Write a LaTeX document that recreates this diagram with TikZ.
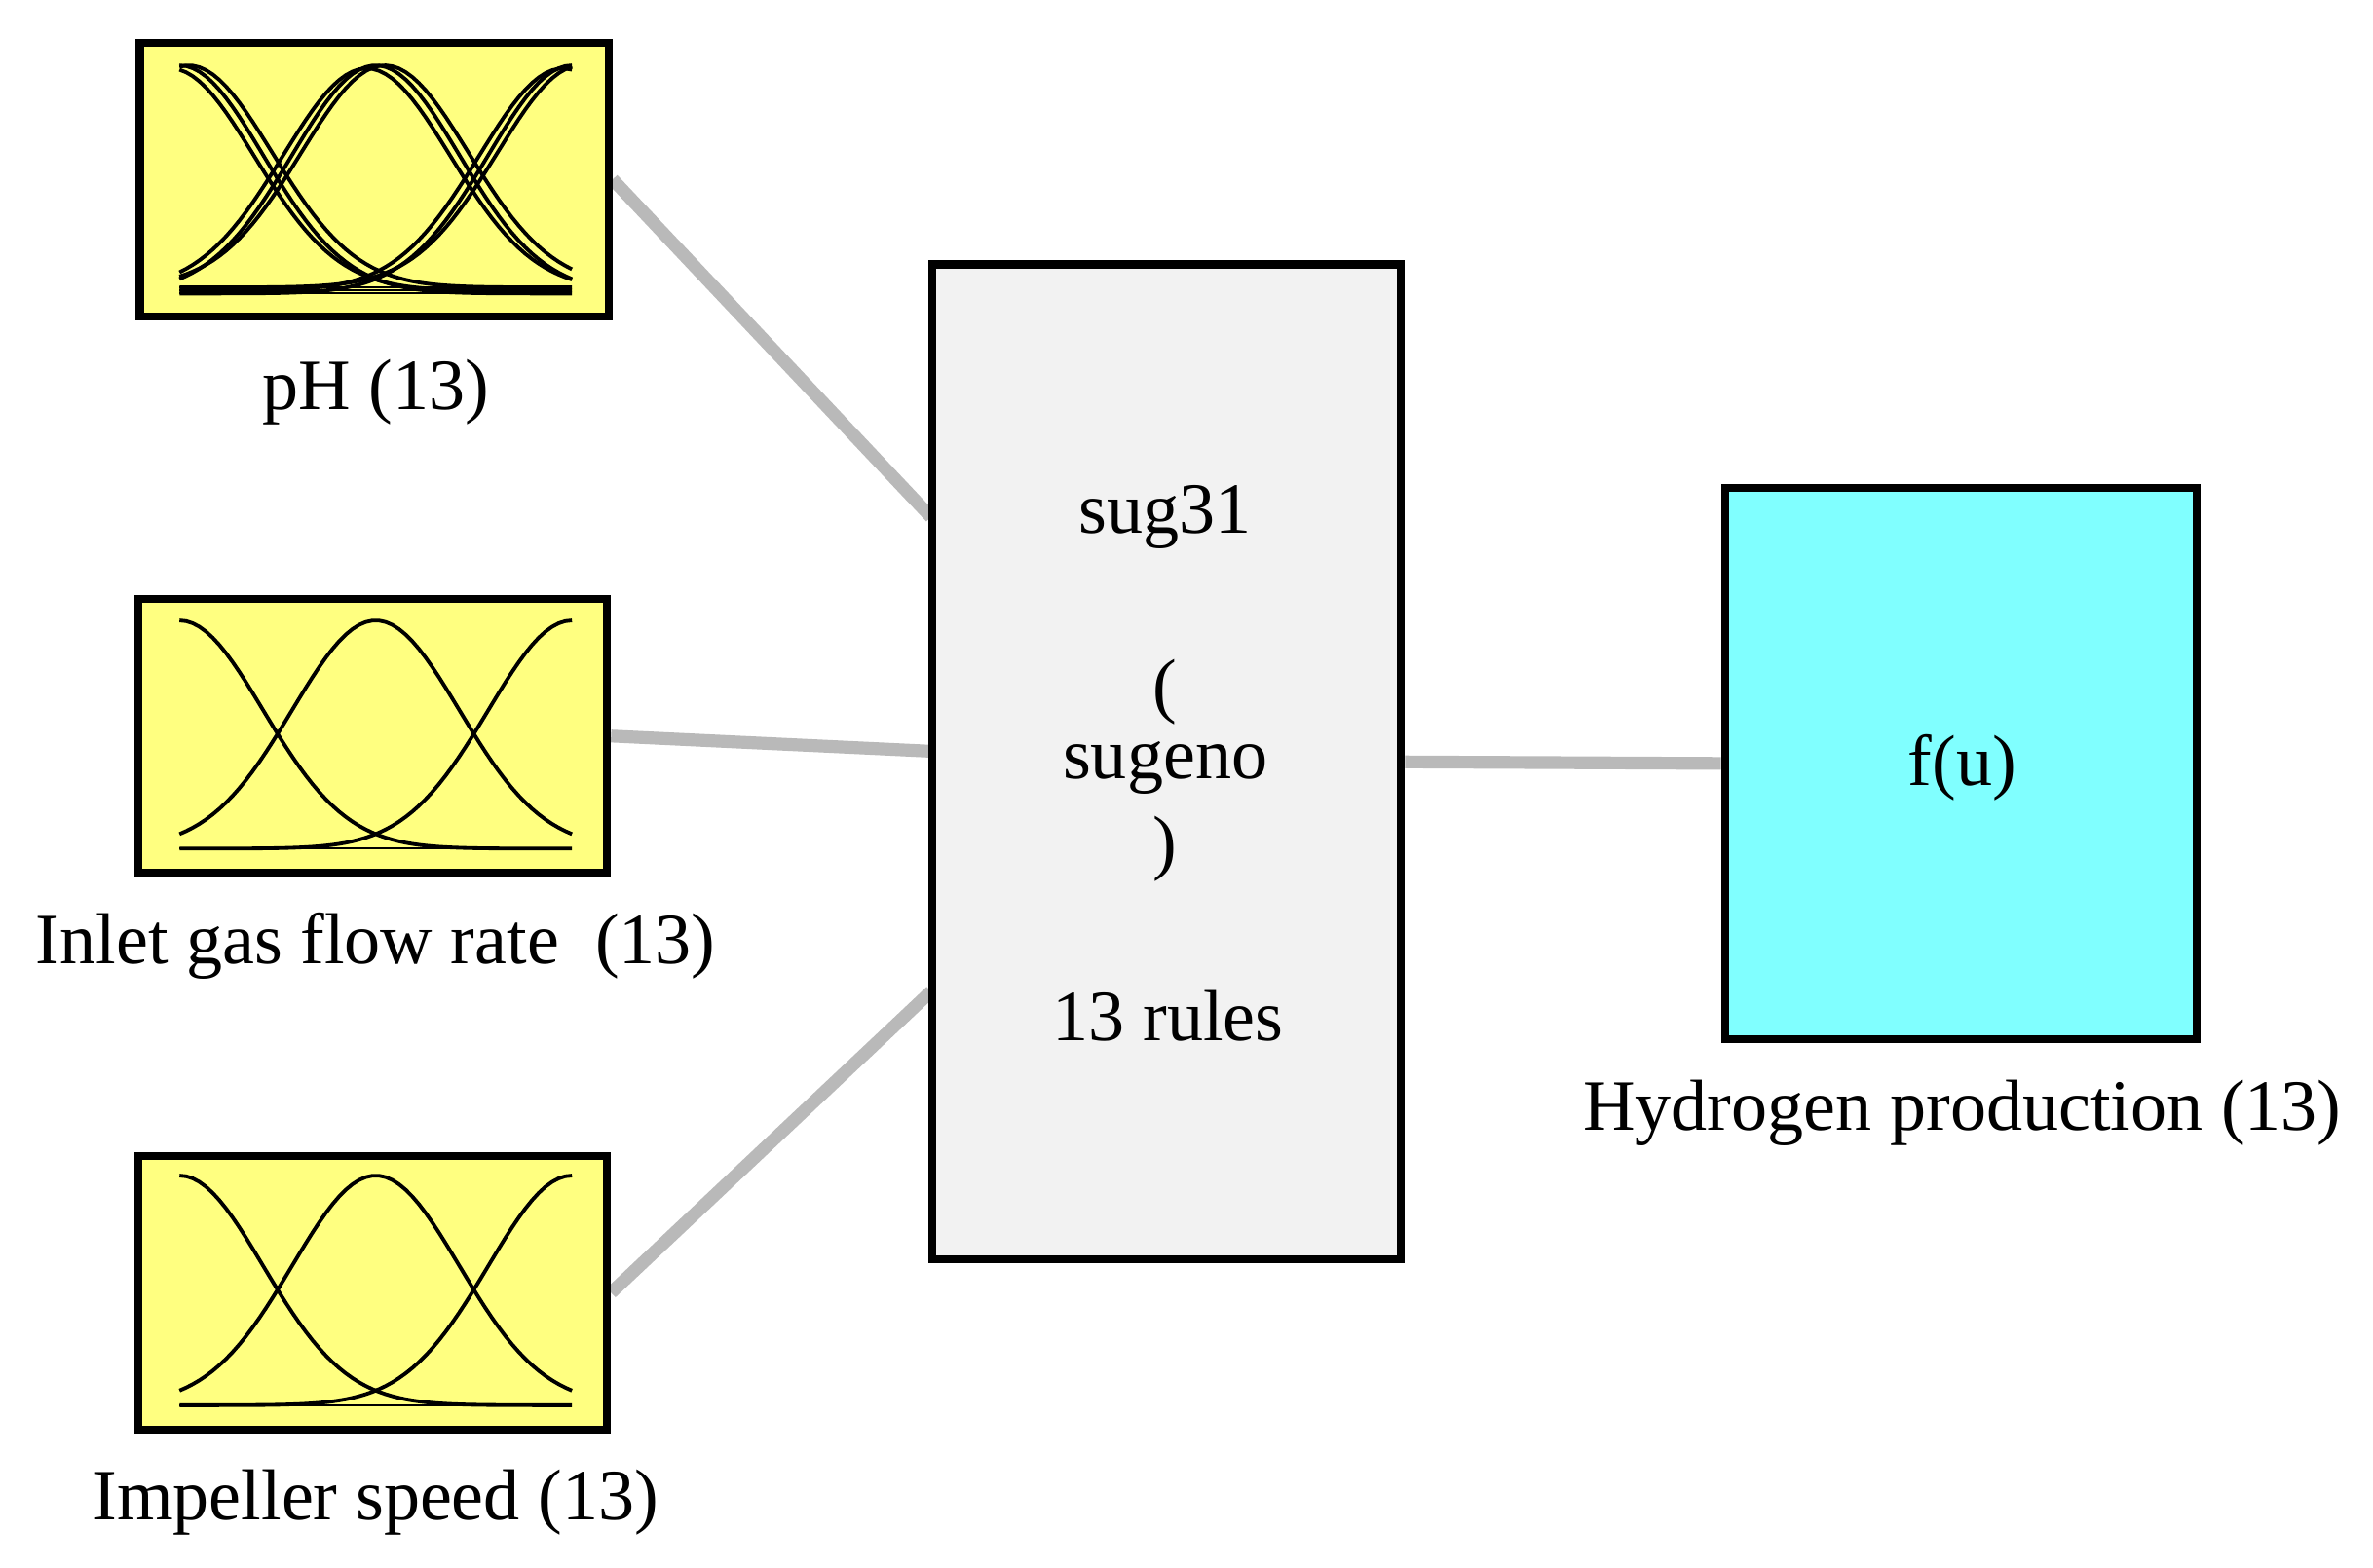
\documentclass[tikz,border=0pt]{standalone}
\usepackage{fontspec}
\setmainfont{Liberation Serif}
\usetikzlibrary{positioning}
\definecolor{mfyellow}{rgb}{1,1,0.5}
\definecolor{outcyan}{rgb}{0.5,1,1}
\definecolor{rulegray}{rgb}{0.95,0.95,0.95}
\tikzset{
  inbox/.style={draw,line width=1.5pt,fill=mfyellow,minimum width=3.08cm,minimum height=1.8cm,inner sep=0pt},
  rulebox/.style={draw,line width=1.5pt,fill=rulegray,minimum width=3.08cm,minimum height=6.54cm,inner sep=0pt},
  outbox/.style={draw,line width=1.5pt,fill=outcyan,minimum width=3.1cm,minimum height=3.62cm,inner sep=0pt},
  lbl/.style={font=\fontsize{13.5}{16}\selectfont},
  link/.style={draw=gray!55,line width=2.4pt}
}
% membership functions inside a box: base, peak, shift
\newcommand{\gaussset}[3]{%
  \draw[thin] (118,#1) -- (376,#1);
  \foreach \c in {118,247,376}
    \draw[line width=0.7pt,samples=60,domain=118:376]
      plot (\x,{#1-(#1-#2)*exp(-0.5*((\x-\c-#3)/55)^2)});
}
\begin{document}
\begin{tikzpicture}[x=0.01cm,y=-0.01cm]
  \useasboundingbox (0,0) rectangle (1560,1031);
  % inputs
  \node[inbox] (ph) at (246,118) {};
  \node[inbox] (gas) at (245,484) {};
  \node[inbox] (imp) at (245,850) {};
  \node[lbl] (phl) at (247,258) {pH (13)};
  \node[lbl] (gasl) at (247,622) {Inlet gas flow rate\ \ (13)};
  \node[lbl] (impl) at (247,988) {Impeller speed (13)};
  % rules
  \node[rulebox] (sug) at (767,501) {};
  \node[lbl] (s1) at (766,340) {sug31};
  \node[lbl] (s2) at (766,455) {(};
  \node[lbl] (s3) at (766,505) {sugeno};
  \node[lbl] (s4) at (766,558) {)};
  \node[lbl] (s5) at (768,668) {13 rules};
  % output
  \node[outbox] (out) at (1289,502) {};
  \node[lbl] (f) at (1290,505) {f(u)};
  \node[lbl] (outl) at (1290,732) {Hydrogen production (13)};
  % curves
  \gaussset{193}{43}{0}
  \gaussset{191}{45}{-6}
  \gaussset{189}{43}{6}
  \gaussset{558}{408}{0}
  \gaussset{924}{773}{0}
  % connectors
  \coordinate (c1) at (612,340);
  \coordinate (c2) at (612,494);
  \coordinate (c3) at (612,652);
  \path[link] (ph.east) -- (c1);
  \path[link] (gas.east) -- (c2);
  \path[link] (imp.east) -- (c3);
  \path[link] (sug.east) -- (out.west);
  \node[rulebox,fill=none] (sugb) at (sug) {};
  \node[outbox,fill=none] (outb) at (out) {};
  \node[inbox,fill=none] (phb) at (ph) {};
  \node[inbox,fill=none] (gasb) at (gas) {};
  \node[inbox,fill=none] (impb) at (imp) {};
\end{tikzpicture}
\end{document}
